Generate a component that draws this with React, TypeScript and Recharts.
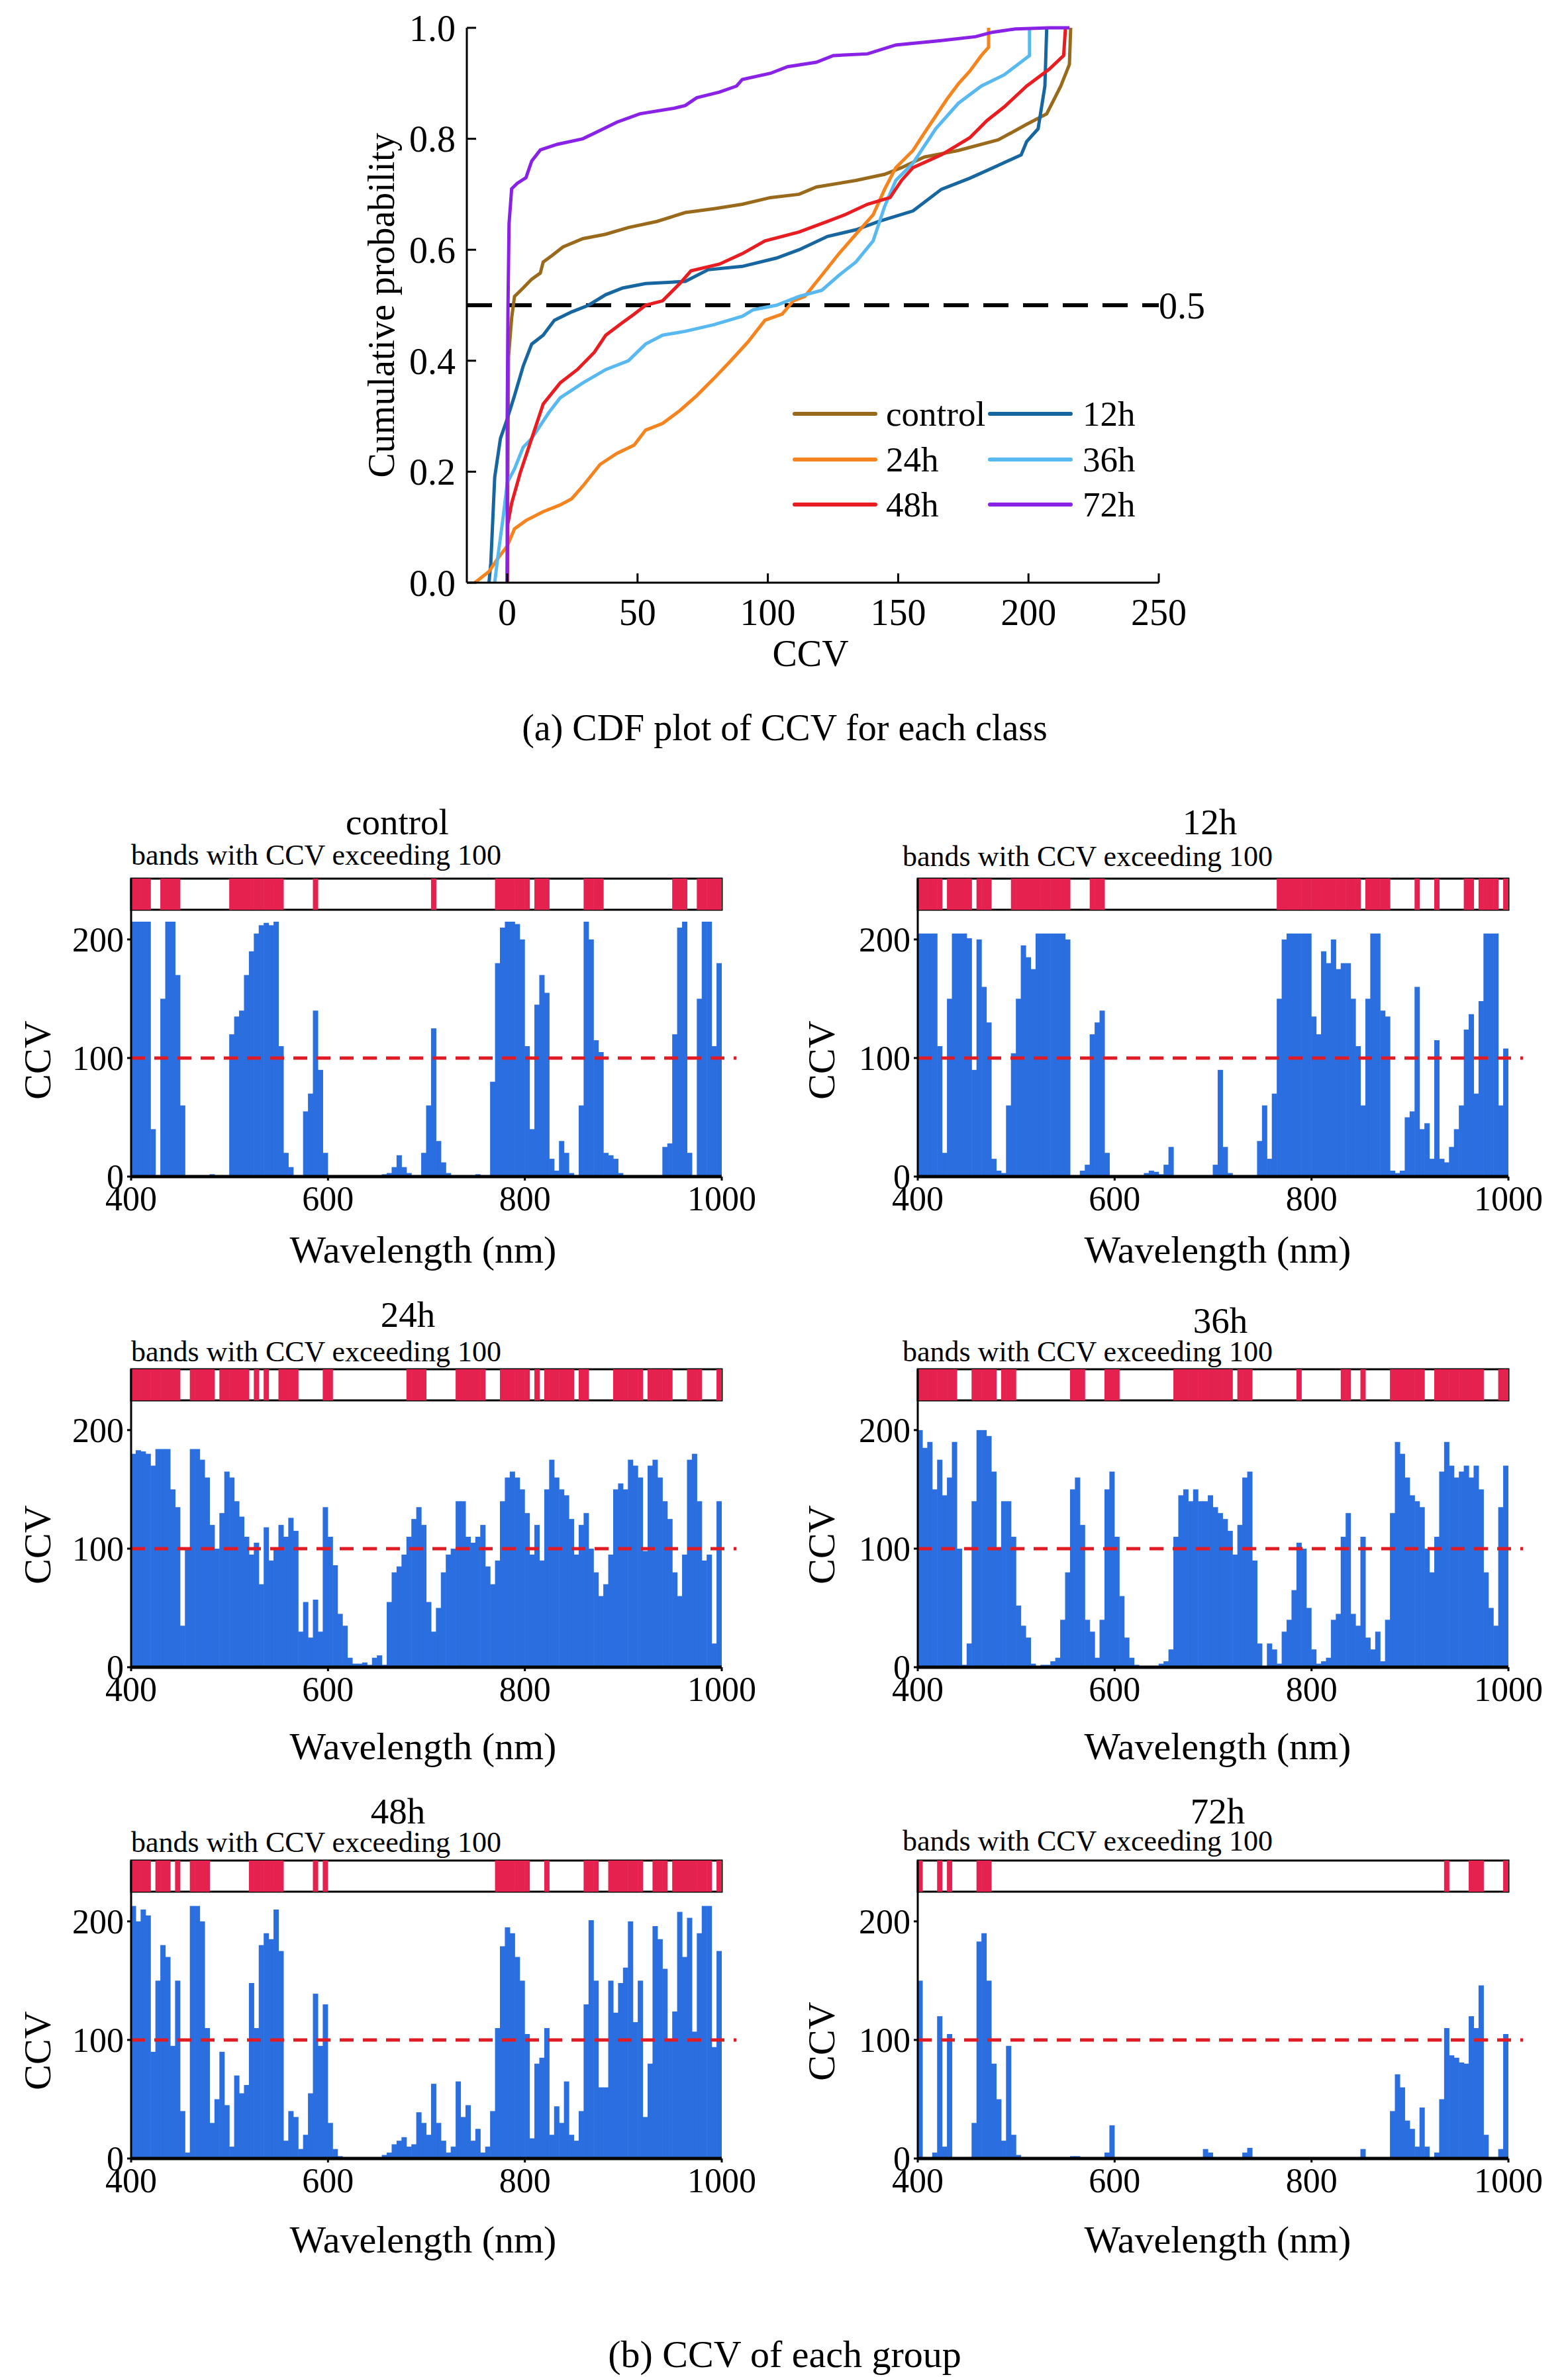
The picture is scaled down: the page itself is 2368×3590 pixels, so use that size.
import React from "react";
import {
  LineChart,
  Line,
  BarChart,
  Bar,
  XAxis,
  YAxis,
  ReferenceLine,
  ReferenceArea,
} from "recharts";

const SERIF = '"Liberation Serif", "DejaVu Serif", serif';

// (a) CDF curves: CCV value and cumulative probability
const CONTROL_CCV = [0, 0.5, 1.7, 2.8, 6.1, 9.4, 12.7, 13.8, 17, 21.4, 29, 37.8, 46.5, 57.4, 68.3, 79.3, 90.2, 101, 112, 118.6, 133.8, 144.8, 151.3, 160, 173.1, 188.4, 199.3, 207, 212.4, 215.7, 216.2];
const CONTROL_CUM = [0, 0.407, 0.477, 0.516, 0.531, 0.547, 0.558, 0.578, 0.589, 0.605, 0.62, 0.628, 0.64, 0.651, 0.667, 0.674, 0.682, 0.694, 0.7, 0.713, 0.725, 0.736, 0.748, 0.767, 0.779, 0.798, 0.826, 0.845, 0.895, 0.934, 1.0];

const H12_CCV = [-7, -6.3, -4.8, -2.6, 0, 2.8, 6.1, 9.4, 13.8, 18.1, 24.7, 31.2, 37.8, 44.3, 53.1, 68.3, 77.1, 90.2, 103.3, 112, 122.9, 133.8, 142.6, 155.7, 166.6, 177.5, 188.4, 197.2, 199.3, 203.7, 206.3, 207];
const H12_CUM = [0, 0.035, 0.19, 0.26, 0.295, 0.337, 0.39, 0.43, 0.446, 0.473, 0.488, 0.5, 0.519, 0.531, 0.539, 0.543, 0.564, 0.57, 0.585, 0.6, 0.624, 0.636, 0.651, 0.67, 0.709, 0.729, 0.752, 0.771, 0.795, 0.818, 0.895, 1.0];

const H24_CCV = [-12.4, -9.2, -7, -3.7, 0, 2.8, 7.2, 13.8, 20.3, 24.7, 29, 35.6, 42.1, 48.7, 53.1, 59.6, 66.2, 72.7, 79.3, 85.8, 92.4, 98.9, 105.5, 109.8, 114.2, 120.7, 127.3, 133.8, 140.4, 144.8, 149.1, 155.7, 160, 164.4, 168.8, 173.1, 177.5, 181.9, 184.7, 184.7];
const H24_CUM = [0, 0.012, 0.02, 0.043, 0.066, 0.097, 0.112, 0.128, 0.14, 0.151, 0.174, 0.213, 0.233, 0.248, 0.275, 0.287, 0.31, 0.337, 0.368, 0.4, 0.434, 0.473, 0.484, 0.508, 0.516, 0.554, 0.593, 0.628, 0.663, 0.709, 0.748, 0.779, 0.81, 0.841, 0.872, 0.899, 0.922, 0.95, 0.965, 1.0];

const H36_CCV = [-4.8, -3.7, -1.5, 0, 2.8, 6.1, 9.4, 15.9, 20.3, 29, 37.8, 46.5, 53.1, 59.6, 68.3, 79.3, 90.2, 94.5, 103.3, 112, 120.7, 127.3, 133.8, 140.4, 144.8, 149.1, 155.7, 164.4, 173.1, 181.9, 190.6, 199.3, 200.4, 200.4];
const H36_CUM = [0, 0.043, 0.12, 0.18, 0.205, 0.244, 0.26, 0.306, 0.333, 0.36, 0.384, 0.4, 0.43, 0.446, 0.453, 0.465, 0.48, 0.492, 0.5, 0.516, 0.527, 0.554, 0.578, 0.616, 0.678, 0.725, 0.756, 0.818, 0.864, 0.895, 0.915, 0.946, 0.95, 1.0];

const H48_CCV = [0, 0.2, 1.7, 5, 9.4, 13.8, 20.3, 26.9, 33.4, 37.8, 44.3, 48.7, 53.1, 59.6, 66.2, 70.5, 81.4, 90.2, 98.9, 112, 122.9, 129.5, 138.2, 146.9, 151.3, 155.7, 166.6, 177.5, 184.1, 190.6, 199.3, 208.1, 213.5, 214.2];
const H48_CUM = [0, 0.105, 0.143, 0.198, 0.26, 0.322, 0.36, 0.384, 0.415, 0.446, 0.469, 0.484, 0.5, 0.508, 0.539, 0.562, 0.574, 0.593, 0.616, 0.632, 0.651, 0.663, 0.682, 0.694, 0.725, 0.748, 0.771, 0.802, 0.833, 0.857, 0.895, 0.926, 0.95, 1.0];

const H72_CCV = [0, 0, 0.3, 0.7, 1.7, 3.9, 7.2, 9.4, 12.7, 19.2, 29, 33.4, 42.1, 50.9, 64, 68.3, 72.7, 81.4, 88, 90.2, 101, 107.6, 118.6, 125.1, 138.2, 149.1, 166.6, 179.7, 186.2, 195, 208, 215.7];
const H72_CUM = [0, 0.3, 0.5, 0.647, 0.71, 0.72, 0.73, 0.76, 0.78, 0.79, 0.8, 0.81, 0.83, 0.845, 0.855, 0.86, 0.874, 0.884, 0.895, 0.907, 0.918, 0.93, 0.938, 0.95, 0.953, 0.969, 0.977, 0.984, 0.992, 0.998, 1.0, 1.0];

const CDF_SERIES = [
  { name: "control", color: "#9a6a1c", ccv: CONTROL_CCV, cum: CONTROL_CUM },
  { name: "12h", color: "#1766a0", ccv: H12_CCV, cum: H12_CUM },
  { name: "24h", color: "#f5841f", ccv: H24_CCV, cum: H24_CUM },
  { name: "36h", color: "#58b9f0", ccv: H36_CCV, cum: H36_CUM },
  { name: "48h", color: "#e81d22", ccv: H48_CCV, cum: H48_CUM },
  { name: "72h", color: "#8a22e6", ccv: H72_CCV, cum: H72_CUM },
];

const CDF_X_TICKS = [0, 50, 100, 150, 200, 250];
const CDF_Y_TICKS = [0, 0.2, 0.4, 0.6, 0.8, 1.0];

// (b) CCV per 5 nm band, 400-995 nm band starts, one row = 50 nm
const BAND_STARTS = Array.from({ length: 120 }, (_, i) => 400 + i * 5);

const CCV_CONTROL = [
  215, 215, 215, 215, 40, 0, 150, 215, 215, 170,
  60, 0, 0, 0, 0, 0, 2, 0, 0, 0,
  120, 135, 140, 170, 190, 205, 212, 214, 212, 215,
  110, 20, 8, 0, 0, 55, 70, 140, 90, 20,
  0, 0, 0, 0, 0, 0, 0, 0, 0, 0,
  0, 2, 3, 8, 18, 8, 3, 0, 0, 20,
  60, 125, 30, 12, 3, 0, 0, 0, 0, 0,
  2, 0, 0, 80, 180, 210, 215, 215, 213, 200,
  110, 40, 145, 170, 155, 15, 5, 30, 20, 3,
  0, 60, 215, 200, 115, 105, 20, 18, 15, 3,
  0, 0, 0, 0, 0, 0, 0, 0, 25, 28,
  120, 210, 215, 20, 0, 150, 215, 215, 110, 180,
];

const CCV_12H = [
  205, 205, 205, 205, 110, 20, 150, 205, 205, 205,
  201, 90, 200, 160, 130, 15, 5, 3, 60, 104,
  150, 195, 185, 175, 205, 205, 205, 205, 205, 205,
  200, 0, 0, 5, 10, 120, 130, 140, 20, 0,
  0, 0, 0, 0, 0, 0, 3, 5, 4, 2,
  10, 25, 0, 0, 0, 0, 0, 0, 0, 0,
  10, 90, 25, 3, 0, 0, 0, 0, 0, 30,
  60, 15, 70, 150, 200, 205, 205, 205, 205, 205,
  135, 120, 190, 180, 200, 175, 180, 180, 150, 110,
  60, 150, 205, 205, 140, 135, 5, 3, 5, 50,
  55, 160, 40, 45, 15, 115, 15, 12, 25, 40,
  60, 124, 137, 70, 148, 205, 205, 205, 60, 108,
];

const CCV_24H = [
  180, 183, 182, 180, 170, 184, 184, 184, 150, 135,
  35, 100, 184, 184, 175, 160, 120, 100, 130, 165,
  160, 140, 127, 110, 95, 105, 70, 118, 90, 100,
  120, 110, 126, 115, 30, 55, 25, 57, 30, 135,
  110, 86, 45, 35, 8, 3, 3, 4, 2, 8,
  10, 2, 55, 80, 85, 95, 110, 125, 135, 120,
  55, 30, 50, 80, 95, 100, 140, 140, 110, 105,
  110, 120, 85, 70, 90, 140, 160, 165, 160, 150,
  130, 95, 120, 90, 150, 175, 160, 150, 145, 125,
  95, 120, 130, 100, 80, 60, 70, 95, 150, 155,
  150, 175, 170, 160, 98, 170, 175, 160, 140, 125,
  80, 60, 95, 175, 180, 140, 90, 95, 20, 140,
];

const CCV_36H = [
  200, 185, 190, 150, 175, 145, 160, 190, 100, 2,
  20, 140, 200, 200, 195, 165, 100, 140, 140, 110,
  52, 35, 25, 3, 0, 2, 2, 5, 8, 40,
  80, 150, 160, 120, 40, 30, 8, 40, 150, 165,
  110, 60, 25, 8, 2, 0, 0, 0, 0, 3,
  5, 15, 110, 145, 150, 140, 150, 140, 140, 145,
  135, 130, 125, 115, 95, 120, 160, 165, 90, 20,
  0, 20, 15, 3, 30, 40, 65, 105, 100, 50,
  15, 3, 5, 8, 40, 45, 110, 130, 45, 35,
  110, 25, 15, 30, 5, 40, 130, 190, 180, 160,
  145, 140, 135, 100, 80, 110, 165, 190, 170, 160,
  165, 170, 160, 170, 150, 80, 50, 35, 135, 170,
];

const CCV_48H = [
  213, 200, 210, 205, 90, 150, 180, 170, 95, 150,
  40, 5, 213, 213, 200, 110, 30, 50, 90, 45,
  10, 70, 55, 62, 148, 110, 180, 190, 185, 210,
  175, 15, 40, 35, 8, 20, 55, 139, 95, 130,
  30, 8, 2, 0, 0, 0, 0, 0, 0, 0,
  0, 3, 5, 12, 15, 18, 10, 12, 39, 30,
  20, 63, 30, 15, 5, 10, 65, 35, 45, 15,
  25, 5, 10, 40, 110, 179, 195, 190, 170, 150,
  105, 17, 80, 85, 110, 20, 44, 30, 65, 20,
  15, 40, 130, 201, 150, 60, 60, 150, 123, 148,
  161, 200, 115, 150, 35, 80, 196, 185, 160, 99,
  124, 208, 170, 203, 107, 190, 213, 213, 94, 175,
];

const CCV_72H = [
  150, 0, 0, 5, 120, 10, 105, 0, 0, 0,
  0, 30, 183, 190, 150, 80, 50, 15, 95, 20,
  3, 0, 0, 0, 0, 0, 0, 0, 0, 0,
  0, 2, 2, 0, 0, 0, 0, 0, 5, 28,
  0, 0, 0, 0, 0, 0, 0, 0, 0, 0,
  0, 0, 0, 0, 0, 0, 0, 0, 8, 5,
  0, 0, 0, 0, 0, 0, 5, 9, 0, 0,
  0, 0, 0, 0, 0, 0, 0, 0, 0, 0,
  0, 0, 0, 0, 0, 0, 0, 0, 0, 0,
  8, 0, 0, 0, 0, 0, 40, 71, 60, 32,
  25, 10, 43, 10, 0, 5, 50, 110, 87, 85,
  81, 80, 120, 110, 146, 20, 0, 0, 8, 105,
];

const WL_TICKS = [400, 600, 800, 1000];
const CCV_TICKS = [0, 100, 200];
const THRESHOLD = 100;

// panel geometry (page pixels)
const PLOT_W = 892;
const PLOT_H = 450;
const Y_MAX = 251.3;
const STRIP_LOW = 225;

const PANELS = [
  { title: "control", values: CCV_CONTROL, left: 198, base: 1777, titleX: 600, titleY: 1241, bandsX: 198, bandsY: 1292, ccvX: 57, ccvY: 1601, xlabX: 639, xlabY: 1888 },
  { title: "12h", values: CCV_12H, left: 1386, base: 1777, titleX: 1827, titleY: 1241, bandsX: 1363, bandsY: 1294, ccvX: 1241, ccvY: 1601, xlabX: 1839, xlabY: 1888 },
  { title: "24h", values: CCV_24H, left: 198, base: 2518, titleX: 616, titleY: 1985, bandsX: 198, bandsY: 2042, ccvX: 57, ccvY: 2333, xlabX: 639, xlabY: 2638 },
  { title: "36h", values: CCV_36H, left: 1386, base: 2518, titleX: 1843, titleY: 1994, bandsX: 1363, bandsY: 2042, ccvX: 1241, ccvY: 2333, xlabX: 1839, xlabY: 2638 },
  { title: "48h", values: CCV_48H, left: 198, base: 3260, titleX: 601, titleY: 2735, bandsX: 198, bandsY: 2783, ccvX: 57, ccvY: 3097, xlabX: 639, xlabY: 3383 },
  { title: "72h", values: CCV_72H, left: 1386, base: 3260, titleX: 1839, titleY: 2735, bandsX: 1363, bandsY: 2781, ccvX: 1241, ccvY: 3083, xlabX: 1839, xlabY: 3383 },
];

function Txt({ x, y, size, anchor = "middle", rotate = false, children }: any) {
  const tx = anchor === "middle" ? "-50%" : "0";
  return (
    <div
      style={{
        position: "absolute",
        left: x,
        top: y,
        transform: `translate(${tx}, -50%)${rotate ? " rotate(-90deg)" : ""}`,
        fontFamily: SERIF,
        fontSize: size,
        lineHeight: 1,
        whiteSpace: "nowrap",
        color: "#000",
      }}
    >
      {children}
    </div>
  );
}

// bars drawn 1px wider so neighbouring bands touch, as in the figure
const bandShape = (color: string) => (props: any) => {
  const { x, y, width, height } = props;
  if (!height || height <= 0 || !width) return <g />;
  return <rect x={x - 0.5} y={y} width={width + 1} height={height} fill={color} />;
};

function CdfChart() {
  const tick = { fontSize: 56, fill: "#000", fontFamily: SERIF };
  return (
    <div style={{ position: "absolute", left: 0, top: 0 }}>
      <LineChart width={1900} height={1010} margin={{ top: 42, right: 150, bottom: 60, left: 545 }}>
        <XAxis
          dataKey="x"
          type="number"
          domain={[-15.5, 250]}
          ticks={CDF_X_TICKS}
          interval={0}
          allowDataOverflow
          height={70}
          tickSize={-14}
          tickMargin={38}
          tick={tick}
          axisLine={{ stroke: "#000", strokeWidth: 3 }}
          tickLine={{ stroke: "#000", strokeWidth: 3 }}
        />
        <YAxis
          type="number"
          domain={[0, 1]}
          ticks={CDF_Y_TICKS}
          interval={0}
          width={160}
          tickSize={-14}
          tickMargin={31}
          tickFormatter={(v: number) => v.toFixed(1)}
          tick={tick}
          axisLine={{ stroke: "#000", strokeWidth: 3 }}
          tickLine={{ stroke: "#000", strokeWidth: 3 }}
        />
        <ReferenceLine
          y={0.5}
          stroke="#000"
          strokeWidth={6}
          strokeDasharray="38 22"
          label={{ value: "0.5", position: "right", fontSize: 56, fill: "#000", fontFamily: SERIF, offset: 0 }}
        />
        {CDF_SERIES.map((s) => (
          <Line
            key={s.name}
            data={s.ccv.map((x, i) => ({ x, p: s.cum[i] }))}
            dataKey="p"
            type="linear"
            stroke={s.color}
            strokeWidth={5}
            dot={false}
            isAnimationActive={false}
          />
        ))}
      </LineChart>
    </div>
  );
}

const LEGEND_ROWS = [
  ["control", "12h"],
  ["24h", "36h"],
  ["48h", "72h"],
];

function CdfLegend() {
  const lineX = [1197, 1492];
  const textX = [1338, 1635];
  const rowY = [625, 694, 762];
  return (
    <>
      {LEGEND_ROWS.map((row, r) =>
        row.map((name, c) => {
          const s = CDF_SERIES.find((d) => d.name === name)!;
          return (
            <React.Fragment key={name}>
              <div
                style={{
                  position: "absolute",
                  left: lineX[c],
                  top: rowY[r] - 3,
                  width: 128,
                  height: 6,
                  borderRadius: 3,
                  background: s.color,
                }}
              />
              <Txt x={textX[c]} y={rowY[r]} size={53} anchor="start">
                {name}
              </Txt>
            </React.Fragment>
          );
        })
      )}
    </>
  );
}

function Panel({ p }: any) {
  const data = BAND_STARTS.map((start, i) => ({
    wl: start + 2.5,
    ccv: p.values[i],
    strip: p.values[i] > THRESHOLD ? [STRIP_LOW, Y_MAX] : null,
  }));
  const yAxisW = 150;
  const mTop = 10;
  const mRight = 75;
  const xAxisH = 85;
  const tick = { fontSize: 52, fill: "#000", fontFamily: SERIF };
  return (
    <>
      <Txt x={p.titleX} y={p.titleY} size={55}>
        {p.title}
      </Txt>
      <Txt x={p.bandsX} y={p.bandsY} size={44} anchor="start">
        bands with CCV exceeding 100
      </Txt>
      <div style={{ position: "absolute", left: p.left - yAxisW, top: p.base - PLOT_H - mTop }}>
        <BarChart
          width={yAxisW + PLOT_W + mRight}
          height={mTop + PLOT_H + xAxisH}
          data={data}
          margin={{ top: mTop, right: mRight, bottom: 0, left: 0 }}
          barCategoryGap={0}
          barGap={0}
        >
          <XAxis
            dataKey="wl"
            type="number"
            domain={[400, 1000]}
            ticks={WL_TICKS}
            interval={0}
            allowDataOverflow
            height={xAxisH}
            tickSize={6}
            tickMargin={8}
            tick={tick}
            axisLine={{ stroke: "#000", strokeWidth: 5 }}
            tickLine={{ stroke: "#000", strokeWidth: 3 }}
          />
          <XAxis xAxisId="strip" dataKey="wl" type="number" domain={[400, 1000]} allowDataOverflow hide />
          <YAxis
            type="number"
            domain={[0, Y_MAX]}
            ticks={CCV_TICKS}
            interval={0}
            allowDataOverflow
            width={yAxisW}
            tickSize={6}
            tickMargin={5}
            tick={tick}
            axisLine={{ stroke: "#000", strokeWidth: 3 }}
            tickLine={{ stroke: "#000", strokeWidth: 3 }}
          />
          <Bar dataKey="ccv" fill="#2b6ee0" shape={bandShape("#2b6ee0")} isAnimationActive={false} />
          <Bar dataKey="strip" xAxisId="strip" fill="#e5224f" shape={bandShape("#e5224f")} isAnimationActive={false} />
          <ReferenceArea
            x1={400}
            x2={1000}
            y1={STRIP_LOW}
            y2={Y_MAX}
            fill="none"
            stroke="#000"
            strokeWidth={3}
            ifOverflow="visible"
          />
          <ReferenceLine
            segment={[
              { x: 400, y: THRESHOLD },
              { x: 1015, y: THRESHOLD },
            ]}
            stroke="#e01b24"
            strokeWidth={5}
            strokeDasharray="21 14"
            ifOverflow="visible"
          />
        </BarChart>
      </div>
      <Txt x={p.ccvX} y={p.ccvY} size={58} rotate>
        CCV
      </Txt>
      <Txt x={p.xlabX} y={p.xlabY} size={58}>
        Wavelength (nm)
      </Txt>
    </>
  );
}

export default function App() {
  return (
    <div style={{ position: "relative", width: 2368, height: 3590, background: "#fff", overflow: "hidden" }}>
      <style>{"body{margin:0}"}</style>
      <CdfChart />
      <CdfLegend />
      <Txt x={576} y={461} size={56} rotate>
        Cumulative probability
      </Txt>
      <Txt x={1224} y={987} size={56}>
        CCV
      </Txt>
      <Txt x={1185} y={1099} size={56}>
        (a) CDF plot of CCV for each class
      </Txt>
      {PANELS.map((p) => (
        <Panel key={p.title} p={p} />
      ))}
      <Txt x={1185} y={3556} size={58}>
        (b) CCV of each group
      </Txt>
    </div>
  );
}
